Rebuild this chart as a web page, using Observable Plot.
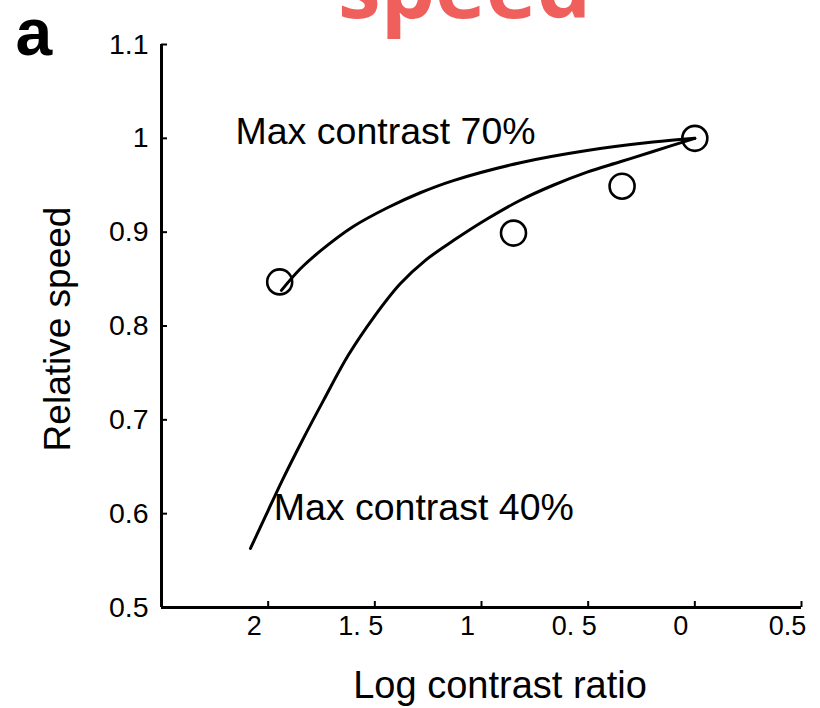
<!DOCTYPE html>
<html><head><meta charset="utf-8">
<script src="https://cdn.jsdelivr.net/npm/d3@7"></script>
<script src="https://cdn.jsdelivr.net/npm/@observablehq/plot@0.6"></script>
<style>body{margin:0;background:#fff} #chart svg{display:block}</style>
</head><body><div id="chart"></div>
<script>
// Tick values and labels (as printed in the figure)
const xTicks = [2, 1.5, 1, 0.5, 0, -0.5];
const xTickLabels = ["2", "1. 5", "1", "0. 5", "0", "0.5"];
const yTicks = [0.5, 0.6, 0.7, 0.8, 0.9, 1.0, 1.1];
const yTickLabels = ["0.5", "0.6", "0.7", "0.8", "0.9", "1", "1.1"];

// Measured points (open circles)
const pointX = [1.946, 0.85, 0.341, 0.0];
const pointY = [0.847, 0.899, 0.949, 1.0];

// Model curve, max contrast 70%
const curve70X = [1.938, 1.849, 1.755, 1.601, 1.441, 1.287, 1.132, 0.818, 0.505, 0.196, 0];
const curve70Y = [0.838, 0.861, 0.880, 0.906, 0.926, 0.942, 0.955, 0.974, 0.987, 0.996, 1.0];

// Model curve, max contrast 40%
const curve40X = [2.083, 2.013, 1.935, 1.840, 1.740, 1.624, 1.506, 1.381, 1.263, 1.132, 0.974, 0.818, 0.664, 0.505, 0.350, 0.196, 0];
const curve40Y = [0.563, 0.597, 0.635, 0.678, 0.721, 0.769, 0.809, 0.845, 0.870, 0.891, 0.914, 0.934, 0.950, 0.964, 0.975, 0.986, 1.0];

// Curve annotations
const annotText = ["Max contrast 70%", "Max contrast 40%"];
const annotX = [2.153, 1.974];
const annotY = [1.007, 0.606];

const xTitle = "Log contrast ratio";
const yTitle = "Relative speed";
const panelLetter = "a";
const topTitle = "speed";

const idx = a => a.map((_, i) => i);
const font = "Liberation Sans, Arial, Helvetica, sans-serif";

const chart = Plot.plot({
  width: 820, height: 708,
  marginTop: 44, marginBottom: 101, marginLeft: 161, marginRight: 19,
  x: {domain: [2.5, -0.5]},
  y: {domain: [0.5, 1.1]},
  style: {fontFamily: font, background: "white", color: "black"},
  marks: [
    Plot.ruleY([0.5], {strokeWidth: 3, stroke: "black"}),
    Plot.ruleX([2.5], {strokeWidth: 3, stroke: "black"}),
    Plot.axisX(xTicks, {tickSize: -6, tickFormat: () => "", strokeWidth: 2, label: null}),
    Plot.axisX(xTicks, {tickSize: 0, tickPadding: 8, dx: -14, fontSize: 27, label: null,
      tickFormat: d => xTickLabels[xTicks.indexOf(d)]}),
    Plot.axisY(yTicks, {tickSize: -6, tickFormat: () => "", strokeWidth: 2, label: null}),
    Plot.axisY(yTicks, {tickSize: 0, tickPadding: 13, fontSize: 28.5, label: null,
      tickFormat: d => yTickLabels[yTicks.indexOf(d)]}),
    Plot.line(idx(curve70X), {x: i => curve70X[i], y: i => curve70Y[i], curve: "catmull-rom", stroke: "black", strokeWidth: 3}),
    Plot.line(idx(curve40X), {x: i => curve40X[i], y: i => curve40Y[i], curve: "catmull-rom", stroke: "black", strokeWidth: 3}),
    Plot.dot(idx(pointX), {x: i => pointX[i], y: i => pointY[i], r: 12.5, stroke: "black", strokeWidth: 2.6, fill: "none"}),
    Plot.text(idx(annotText), {x: i => annotX[i], y: i => annotY[i], text: i => annotText[i], textAnchor: "start", lineAnchor: "middle", fontSize: 37.5, fill: "black"}),
    Plot.text([xTitle], {frameAnchor: "bottom", textAnchor: "middle", lineAnchor: "middle", dx: 18.5, dy: 78, fontSize: 38, fill: "black"}),
    Plot.text([yTitle], {frameAnchor: "left", rotate: -90, textAnchor: "middle", lineAnchor: "middle", dx: -103, dy: 3, fontSize: 37, fill: "black"}),
    Plot.text([panelLetter], {frameAnchor: "top-left", textAnchor: "start", lineAnchor: "middle", dx: -146, dy: -11, fontSize: 66, fontWeight: "bold", fill: "black"}),
    Plot.text([topTitle], {frameAnchor: "top", textAnchor: "middle", lineAnchor: "middle", dx: -17, dy: -54.5, fontSize: 86, fontWeight: 700, fontFamily: "Open Sans, Noto Sans, sans-serif", fill: "#ef5f5c"})
  ]
});
document.getElementById("chart").appendChild(chart);
</script>
</body></html>
